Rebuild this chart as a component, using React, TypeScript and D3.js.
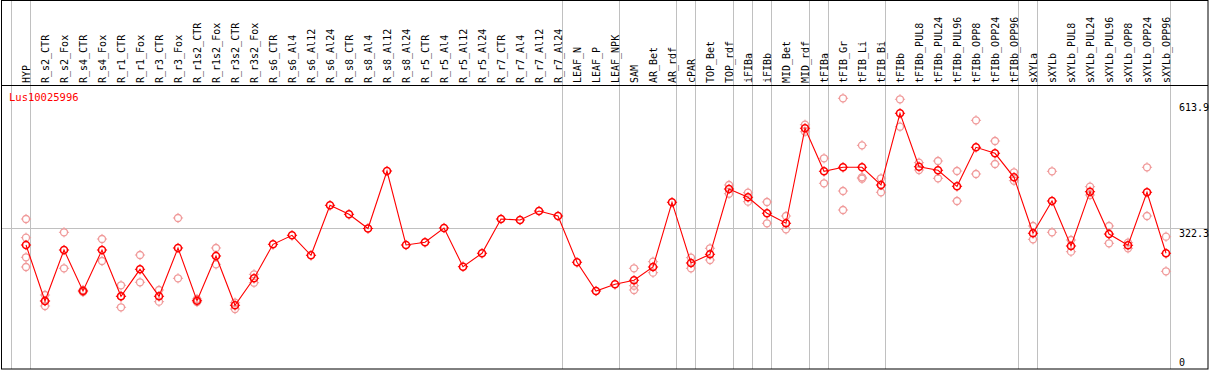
import React from "react";
import * as d3 from "d3";

const categories = [
  "HYP", "R_s2_CTR", "R_s2_Fox", "R_s4_CTR", "R_s4_Fox", "R_r1_CTR", "R_r1_Fox", "R_r3_CTR", "R_r3_Fox",
  "R_r1s2_CTR", "R_r1s2_Fox", "R_r3s2_CTR", "R_r3s2_Fox", "R_s6_CTR", "R_s6_Al4", "R_s6_Al12", "R_s6_Al24",
  "R_s8_CTR", "R_s8_Al4", "R_s8_Al12", "R_s8_Al24", "R_r5_CTR", "R_r5_Al4", "R_r5_Al12", "R_r5_Al24",
  "R_r7_CTR", "R_r7_Al4", "R_r7_Al12", "R_r7_Al24", "LEAF_N", "LEAF_P", "LEAF_NPK", "SAM", "AR_Bet", "AR_rdf",
  "cPAR", "TOP_Bet", "TOP_rdf", "iFIBa", "iFIBb", "MID_Bet", "MID_rdf", "tFIBa", "tFIB_Gr", "tFIB_Li", "tFIB_Bi",
  "tFIBb", "tFIBb_PUL8", "tFIBb_PUL24", "tFIBb_PUL96", "tFIBb_OPP8", "tFIBb_OPP24", "tFIBb_OPP96",
  "sXYLa", "sXYLb", "sXYLb_PUL8", "sXYLb_PUL24", "sXYLb_PUL96", "sXYLb_OPP8", "sXYLb_OPP24", "sXYLb_OPP96",
];

// last category index of each group (separators drawn after these; -1 = before first)
const groupEnds = [-1, 0, 28, 31, 34, 35, 37, 38, 39, 41, 42, 45, 52, 53, 60];

const means = [
  283.5, 153.6, 271.9, 176.8, 271.9, 164.5, 227.1, 164.5, 276.6, 154.3, 258.0, 143.6, 206.3,
  285.1, 306.0, 259.6, 375.6, 354.7, 321.8, 455.2, 283.5, 289.8, 323.0, 233.2, 264.3,
  343.8, 341.5, 362.4, 350.8, 243.4, 176.8, 192.3, 201.6, 232.5, 382.6, 241.8, 261.9,
  413.4, 394.2, 357.1, 333.9, 554.3, 454.5, 463.8, 463.8, 422.7, 589.1, 465.2, 456.8,
  419.7, 510.2, 496.3, 440.6, 310.7, 385.6, 281.2, 407.2, 309.0, 282.8, 405.8, 264.3,
];

const replicates: number[][] = [
  [343.8, 300.5, 255.0, 232.5], [167.5, 153.6, 142.0], [313.0, 229.5], [179.1, 174.5], [297.4, 246.4],
  [190.0, 164.5, 139.0], [260.3, 197.0], [179.1, 152.0], [346.2, 206.3], [158.2, 151.3],
  [276.6, 238.7], [149.6, 135.0], [215.5, 196.0], [], [], [], [], [], [], [], [], [], [], [], [],
  [], [], [], [], [], [], [], [229.5, 189.1, 179.1], [244.8, 219.3], [], [254.1, 229.5],
  [275.9, 248.7], [422.7, 402.5], [404.9, 384.0], [383.3, 333.9], [350.8, 319.9], [562.6, 546.4],
  [484.7, 426.7], [623.9, 408.8, 364.7], [514.8, 440.6, 437.3], [438.3, 405.8], [621.6, 558.0],
  [474.5, 457.5], [478.4, 438.3], [455.2, 385.6], [572.8, 448.3], [524.8, 471.5], [452.2, 432.7],
  [327.6, 296.7], [454.5, 313.0], [295.1, 268.0], [418.8, 399.5], [327.6, 287.5], [288.9, 275.9],
  [463.8, 350.8], [302.8, 222.5],
];

const tickValues = [613.9, 322.3, 0];
const tickLabels = ["613.9", "322.3", "0"];
const gridValues = [322.3];
const geneLabel = "Lus10025996";

const W = 1209;
const H = 370;
const FONT = "'DejaVu Sans Mono', monospace";

function Marker({ cx, cy, color, sw }: { cx: number; cy: number; color: string; sw: number }) {
  const r = 3.5;
  const t = 1.6;
  return (
    <g stroke={color} strokeWidth={sw} fill="none">
      <circle cx={cx} cy={cy} r={r} />
      <line x1={cx} x2={cx} y1={cy - r} y2={cy - r - t} strokeWidth={1} />
      <line x1={cx} x2={cx} y1={cy + r} y2={cy + r + t} strokeWidth={1} />
      <line x1={cx - r} x2={cx - r - t} y1={cy} y2={cy} strokeWidth={1} />
      <line x1={cx + r} x2={cx + r + t} y1={cy} y2={cy} strokeWidth={1} />
    </g>
  );
}

export default function App() {
  const x = d3.scalePoint<string>().domain(categories).range([26, 1166]).padding(0);
  const step = x.step();
  const y = d3.scaleLinear().domain([0, 613.9]).range([367.2, 102.6]);

  const line = d3
    .line<number>()
    .x((_, i) => x(categories[i]) as number)
    .y((d) => y(d));

  const sepX = (i: number) => Math.round(26 + step * i + 4) + 0.5;

  return (
    <svg
      width={W}
      height={H}
      style={{ position: "absolute", left: 0, top: 0, background: "#fff" }}
    >
      <rect x={0} y={0} width={W} height={H} fill="#fff" />
      {groupEnds.map((g) => (
        <line key={"s" + g} x1={sepX(g)} x2={sepX(g)} y1={0} y2={369} stroke="#c0c0c0" strokeWidth={1} />
      ))}
      {gridValues.map((v) => (
        <line key={"g" + v} x1={1} x2={1208} y1={Math.round(y(v)) + 0.5} y2={Math.round(y(v)) + 0.5} stroke="#c0c0c0" strokeWidth={1} />
      ))}
      <rect x={1.5} y={0.5} width={1206.5} height={368.5} fill="none" stroke="#000" strokeWidth={1} />
      <line x1={1} x2={1208} y1={85.5} y2={85.5} stroke="#000" strokeWidth={1} />
      {categories.map((c) => {
        const cx = (x(c) as number) + 4;
        return (
          <text
            key={c}
            transform={`translate(${cx},83) rotate(-90)`}
            fontFamily={FONT}
            fontSize={10}
            fill="#000"
          >
            {c}
          </text>
        );
      })}
      <text x={9} y={100.5} fontFamily={FONT} fontSize={10.5} fill="#ff0000">
        {geneLabel}
      </text>
      {tickValues.map((v, i) => (
        <text key={"t" + i} x={1179} y={Math.min(y(v) + 8.5, 366)} fontFamily={FONT} fontSize={10} fill="#000">
          {tickLabels[i]}
        </text>
      ))}
      {replicates.map((reps, i) =>
        reps.map((v, j) => (
          <Marker key={`r${i}-${j}`} cx={x(categories[i]) as number} cy={y(v)} color="#f09a9a" sw={1.3} />
        ))
      )}
      <path d={line(means) || ""} fill="none" stroke="#ff0000" strokeWidth={1.1} />
      {means.map((v, i) => (
        <Marker key={"m" + i} cx={x(categories[i]) as number} cy={y(v)} color="#ff0000" sw={1.6} />
      ))}
    </svg>
  );
}
